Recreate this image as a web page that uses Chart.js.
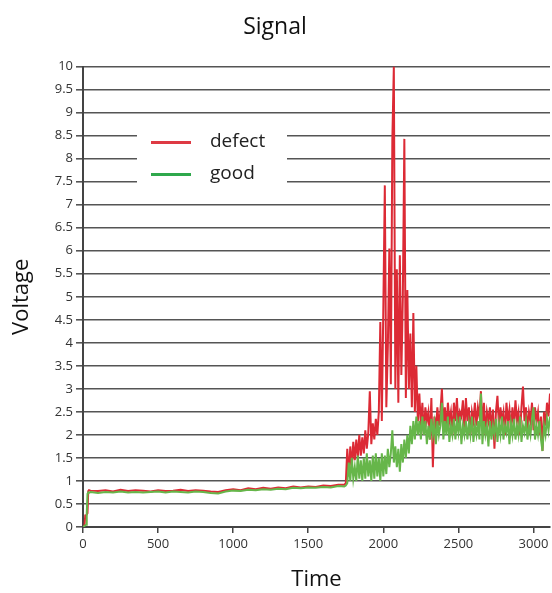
<!DOCTYPE html>
<html>
<head>
<meta charset="utf-8">
<script src="https://cdn.jsdelivr.net/npm/chart.js@4"></script>
<style>
    html, body { margin: 0; padding: 0; background: #fff; }
    #wrap { width: 552px; height: 593px; }
</style>
</head>
<body>
<div id="wrap"><canvas id="signalChart"></canvas></div>
<script>
/* Signal chart - defect vs good voltage traces */

const times = [
    0, 10, 15, 20, 25, 30, 35, 40, 50, 100, 150, 200, 250, 300, 350, 400, 450, 500,
    550, 600, 650, 700, 750, 800, 850, 900, 950, 1000, 1050, 1100, 1150, 1200, 1250,
    1300, 1350, 1400, 1450, 1500, 1550, 1600, 1650, 1700, 1740,
    1750, 1760, 1770, 1780, 1790, 1800, 1810, 1820, 1830, 1840, 1850, 1860, 1870, 1880, 1890,
    1900, 1910, 1920, 1930, 1940, 1950, 1960, 1970, 1980, 1990,
    2000, 2010, 2020, 2030, 2040, 2050, 2060, 2070, 2080, 2090,
    2100, 2110, 2120, 2130, 2140, 2150, 2160, 2170, 2180, 2190,
    2200, 2210, 2220, 2230, 2240, 2250, 2260, 2270, 2280, 2290,
    2300, 2310, 2320, 2330, 2340, 2350, 2360, 2370, 2380, 2390,
    2400, 2410, 2420, 2430, 2440, 2450, 2460, 2470, 2480, 2490,
    2500, 2510, 2520, 2530, 2540, 2550, 2560, 2570, 2580, 2590,
    2600, 2610, 2620, 2630, 2640, 2650, 2660, 2670, 2680, 2690,
    2700, 2710, 2720, 2730, 2740, 2750, 2760, 2770, 2780, 2790,
    2800, 2810, 2820, 2830, 2840, 2850, 2860, 2870, 2880, 2890,
    2900, 2910, 2920, 2930, 2940, 2950, 2960, 2970, 2980, 2990,
    3000, 3010, 3020, 3030, 3040, 3050, 3060, 3070, 3080, 3090,
    3100, 3110
];

const defect = [
    0, 0.03, 0.25, 0.25, 0.25, 0.3, 0.78, 0.8, 0.79, 0.78, 0.8, 0.77, 0.81, 0.78, 0.8, 0.79, 0.77, 0.8,
    0.78, 0.79, 0.81, 0.78, 0.8, 0.79, 0.77, 0.76, 0.8, 0.82, 0.8, 0.84, 0.82, 0.85, 0.83,
    0.86, 0.84, 0.88, 0.86, 0.88, 0.87, 0.9, 0.89, 0.92, 0.92,
    0.95, 1.7, 1.1, 1.75, 1.3, 1.85, 1.45, 1.9, 1.5, 2.0, 1.55, 1.95, 1.6, 2.1, 1.7,
    2.05, 2.95, 1.8, 2.25, 1.9, 2.35, 2.0, 2.5, 4.45, 2.3,
    4.75, 7.42, 2.6, 3.9, 6.05, 3.1, 8.39, 10.0, 3.0, 5.6,
    2.7, 5.9, 3.3, 5.0, 8.43, 2.8, 5.15, 3.0, 4.2, 2.6,
    4.65, 2.5, 3.5, 2.3, 2.9, 2.2, 2.7, 2.0, 2.6, 2.3,
    2.5, 1.9, 2.8, 1.3, 2.4, 2.1, 2.6, 2.2, 2.5, 3.0,
    2.2, 2.6, 2.1, 2.7, 2.3, 2.5, 2.0, 2.7, 2.3, 2.8,
    2.2, 2.5, 2.4, 2.75, 2.1, 2.8, 2.3, 2.6, 2.0, 2.5,
    2.3, 2.7, 2.2, 2.6, 2.4, 2.95, 2.2, 2.7, 2.0, 2.5,
    2.3, 2.6, 2.1, 2.55, 1.7, 2.5, 2.85, 2.2, 2.6, 2.3,
    2.5, 2.0, 2.7, 2.3, 2.55, 2.1, 2.6, 2.2, 2.75, 2.3,
    2.5, 2.0, 2.6, 3.05, 2.3, 2.6, 2.1, 2.5, 2.3, 2.7,
    2.1, 2.6, 2.3, 2.5, 2.0, 2.4, 1.65, 2.5, 2.2, 2.7,
    2.4, 2.9
];

const good = [
    0, 0.02, 0.04, 0.05, 0.3, 0.72, 0.75, 0.74, 0.76, 0.74, 0.76, 0.75, 0.77, 0.75, 0.76, 0.75, 0.76, 0.77,
    0.75, 0.77, 0.76, 0.75, 0.77, 0.76, 0.74, 0.73, 0.77, 0.79, 0.78, 0.81, 0.8, 0.82, 0.81,
    0.83, 0.82, 0.85, 0.84, 0.86, 0.85, 0.87, 0.86, 0.89, 0.88,
    0.9, 0.95, 1.4, 1.0, 1.5, 1.05, 1.3, 1.0, 1.55, 1.05, 1.45, 1.0, 1.5, 1.05, 1.6,
    1.1, 1.45, 1.0, 1.55, 1.05, 1.6, 1.1, 1.5, 1.0, 1.6,
    1.1, 1.55, 1.15, 1.7, 1.3, 1.6, 2.1, 1.4, 1.75, 1.3,
    1.7, 1.2, 1.8, 1.4, 1.9, 1.5, 2.0, 1.6, 2.2, 1.8,
    2.3, 1.9, 2.4, 2.0, 2.3, 1.9, 2.4, 2.0, 2.3, 1.8,
    2.2, 1.9, 2.35, 2.0, 2.25, 1.8, 2.3, 2.0, 2.2, 2.7,
    1.9, 2.3, 2.0, 2.4, 1.85, 2.2, 2.0, 2.35, 1.9, 2.3,
    2.05, 2.4, 1.8, 2.2, 2.0, 2.3, 1.9, 2.25, 2.0, 2.4,
    1.85, 2.2, 2.0, 2.3, 1.9, 2.9, 1.8, 2.3, 2.0, 2.2,
    1.75, 2.3, 1.9, 2.2, 2.0, 2.35, 1.85, 2.25, 2.0, 2.4,
    1.9, 2.2, 2.05, 2.3, 1.8, 2.25, 2.0, 2.35, 1.9, 2.2,
    2.0, 2.4, 1.85, 2.2, 2.05, 2.3, 1.9, 2.2, 2.0, 2.35,
    2.6, 1.9, 2.2, 2.0, 2.3, 1.9, 1.65, 2.2, 2.0, 2.35,
    2.1, 2.4
];

const seriesNames = ['defect', 'good'];
const yTicks = [0, 0.5, 1, 1.5, 2, 2.5, 3, 3.5, 4, 4.5, 5, 5.5, 6, 6.5, 7, 7.5, 8, 8.5, 9, 9.5, 10];
const xTicks = [0, 500, 1000, 1500, 2000, 2500, 3000];

const FONT = "'Open Sans', 'Noto Sans', sans-serif";
const RED = '#dc2a35';
const GREEN = '#66b64a';

/* Legend drawn inside the plot on a white patch, like the reference */
const insideLegend = {
    id: 'insideLegend',
    afterDatasetsDraw(chart) {
        const { ctx, chartArea } = chart;
        const x0 = chartArea.left + 54;
        const y0 = chartArea.top + 53;
        ctx.save();
        ctx.fillStyle = '#fff';
        ctx.fillRect(x0, y0, 150, 72);
        const items = [
            { text: seriesNames[0], color: '#de3a44', y: y0 + 23 },
            { text: seriesNames[1], color: '#2fa84c', y: y0 + 55 }
        ];
        ctx.font = '19px ' + FONT;
        ctx.textBaseline = 'middle';
        items.forEach(it => {
            ctx.strokeStyle = it.color;
            ctx.lineWidth = 3;
            ctx.beginPath();
            ctx.moveTo(x0 + 14, it.y);
            ctx.lineTo(x0 + 54, it.y);
            ctx.stroke();
            ctx.fillStyle = '#222';
            ctx.fillText(it.text, x0 + 73, it.y - 1);
        });
        ctx.restore();
    }
};

document.addEventListener('DOMContentLoaded', () => {
    const ctx = document.getElementById('signalChart');

    new Chart(ctx, {
        type: 'line',
        data: {
            datasets: [
                {
                    label: seriesNames[0],
                    data: times.map((t, i) => ({ x: t, y: defect[i] })),
                    borderColor: RED,
                    borderWidth: 2,
                    pointRadius: 0,
                    tension: 0,
                    order: 1
                },
                {
                    label: seriesNames[1],
                    data: times.map((t, i) => ({ x: t, y: good[i] })),
                    borderColor: GREEN,
                    borderWidth: 2,
                    pointRadius: 0,
                    tension: 0,
                    order: 0
                }
            ]
        },
        options: {
            responsive: true,
            maintainAspectRatio: false,
            animation: false,
            layout: { padding: { top: 0, right: 2, bottom: 0, left: 0 } },
            plugins: {
                legend: { display: false },
                tooltip: { enabled: false },
                title: {
                    display: true,
                    text: 'Signal',
                    color: '#111',
                    font: { family: FONT, size: 23, weight: 'normal' },
                    padding: { top: 14, bottom: 25 }
                }
            },
            scales: {
                x: {
                    type: 'linear',
                    min: 0,
                    max: 3110,
                    afterFit: (scale) => { scale.height = 66; },
                    afterBuildTicks: (scale) => { scale.ticks = xTicks.map(v => ({ value: v })); },
                    ticks: {
                        callback: (v) => String(v),
                        font: { family: FONT, size: 13 },
                        color: '#333',
                        padding: 3,
                        maxRotation: 0
                    },
                    grid: {
                        drawOnChartArea: false,
                        drawTicks: true,
                        tickLength: 6,
                        color: '#444',
                        lineWidth: 1.5
                    },
                    border: { display: true, color: '#444', width: 2 },
                    title: {
                        display: true,
                        text: 'Time',
                        color: '#111',
                        font: { family: FONT, size: 22 },
                        padding: { top: 0, bottom: 0 }
                    }
                },
                y: {
                    min: 0,
                    max: 10,
                    afterFit: (scale) => { scale.width = 83; },
                    afterBuildTicks: (scale) => { scale.ticks = yTicks.map(v => ({ value: v })); },
                    ticks: {
                        callback: (v) => String(Number(v.toFixed(2))),
                        font: { family: FONT, size: 13 },
                        color: '#333',
                        padding: 3
                    },
                    grid: {
                        color: '#555',
                        lineWidth: 1.6,
                        drawTicks: true,
                        tickLength: 7
                    },
                    border: { display: true, color: '#444', width: 2 },
                    title: {
                        display: true,
                        text: 'Voltage',
                        color: '#111',
                        font: { family: FONT, size: 22 },
                        padding: { top: 9, bottom: 0 }
                    }
                }
            }
        },
        plugins: [insideLegend]
    });
});
</script>
</body>
</html>
